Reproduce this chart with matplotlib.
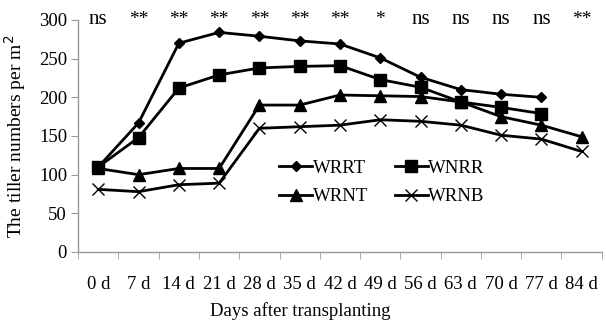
import matplotlib
matplotlib.use("Agg")
import matplotlib.pyplot as plt
import numpy as np

days = ["0 d", "7 d", "14 d", "21 d", "28 d", "35 d", "42 d", "49 d", "56 d", "63 d", "70 d", "77 d", "84 d"]
signif = ["ns", "**", "**", "**", "**", "**", "**", "*", "ns", "ns", "ns", "ns", "**"]
wrrt = [110, 167, 270, 284, 279, 273, 269, 251, 226, 210, 204, 200, None]
wnrr = [110, 148, 212, 229, 238, 240, 241, 223, 213, 194, 187, 179, None]
wrnt = [108, 100, 108, 108, 190, 190, 203, 202, 201, 194, 175, 164, 149]
wrnb = [81, 78, 87, 89, 160, 162, 164, 171, 169, 164, 151, 146, 130]

plt.rcParams['font.family'] = ['Liberation Serif', 'DejaVu Serif']

fig = plt.figure(figsize=(6.06, 3.2), dpi=100)
ax = fig.add_axes([0.129, 0.2125, 0.864, 0.725])

x = np.arange(len(days))

def arr(v):
    return np.array([np.nan if a is None else a for a in v], dtype=float)

ax.plot(x, arr(wrrt), color='black', lw=2.0, marker='D', ms=5.5, label='WRRT')
ax.plot(x, arr(wnrr), color='black', lw=2.0, marker='s', ms=8, label='WNRR')
ax.plot(x, arr(wrnt), color='black', lw=2.0, marker='^', ms=8, label='WRNT')
ax.plot(x, arr(wrnb), color='black', lw=2.0, marker='x', ms=8, mew=1.0, label='WRNB')

ax.set_ylim(0, 300)
ax.set_xlim(-0.5, len(days) - 0.5)
ax.set_yticks(np.arange(0, 301, 50))
ax.set_xticks(x)
ax.set_xticklabels(days)
ax.set_xticks(np.arange(-0.5, len(days), 1), minor=True)
ax.tick_params(axis='x', which='major', length=0, pad=17, labelsize=13.5)
ax.tick_params(axis='x', which='minor', length=5, color='#999999', direction='out')
ax.tick_params(axis='y', length=5, color='#999999', labelsize=13.5, pad=3)

for s in ['top', 'right']:
    ax.spines[s].set_visible(False)
for s in ['left', 'bottom']:
    ax.spines[s].set_color('#999999')
    ax.spines[s].set_linewidth(1.0)

for xi, s in zip(x, signif):
    ax.text(xi, 300, s, ha='center', va='center', fontsize=15 if s == 'ns' else 14,
            clip_on=False)

ax.set_ylabel("The tiller numbers per m$^2$", fontsize=14, labelpad=8)
ax.set_xlabel("Days after transplanting", fontsize=13.5, labelpad=3)
ax.xaxis.set_label_coords(0.424, -0.215)

handles, labels = ax.get_legend_handles_labels()
order = [0, 2, 1, 3]
leg = ax.legend([handles[i] for i in order], [labels[i] for i in order], ncol=2,
                loc='upper left', bbox_to_anchor=(0.352, 0.47), frameon=False,
                fontsize=13.5, handlelength=1.75, handletextpad=0.05, columnspacing=1.4,
                labelspacing=0.6)

fig.savefig("out.png", dpi=100)
